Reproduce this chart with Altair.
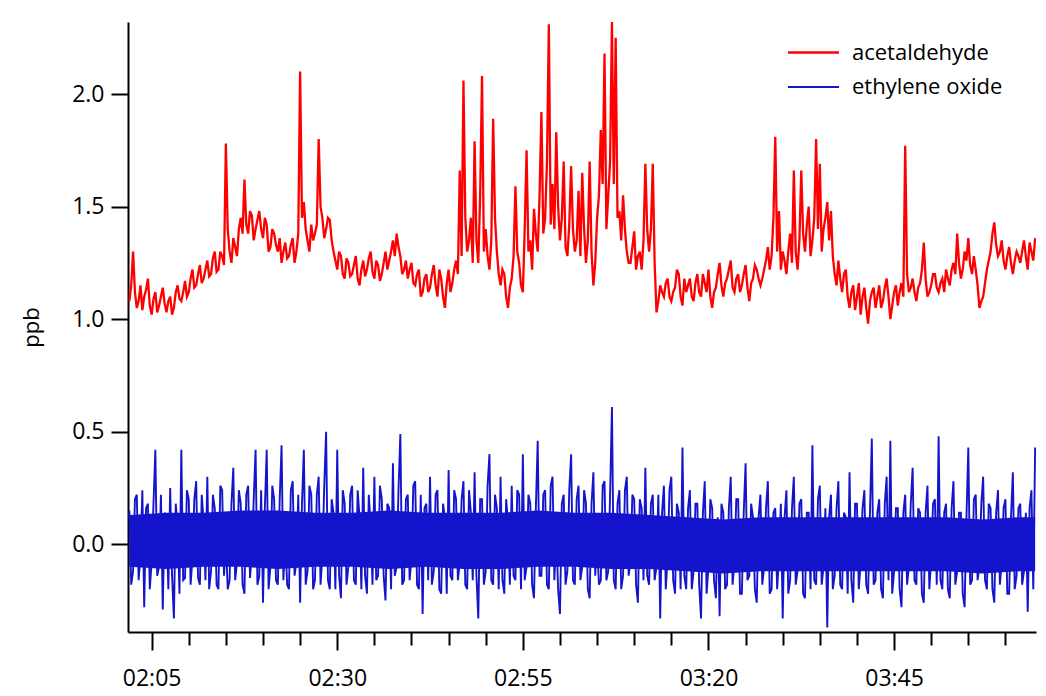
import altair as alt
import pandas as pd

series_names = ["acetaldehyde", "ethylene oxide"]
series_colors = ["#FF0000", "#1414CC"]
start_time = "2024-01-01 02:02:00"
step = "15s"

# acetaldehyde, ppb, readings at hh:mm:00 and hh:mm:30 (rows = 5 minutes)
acetaldehyde = [
    1.08, 1.30, 1.05, 1.15, 1.10, 1.18, 1.02, 1.12, 1.06, 1.14,
    1.03, 1.10, 1.05, 1.15, 1.08, 1.17, 1.12, 1.22, 1.15, 1.24,
    1.18, 1.26, 1.20, 1.30, 1.22, 1.28, 1.78, 1.30, 1.36, 1.28,
    1.45, 1.62, 1.38, 1.46, 1.40, 1.48, 1.36, 1.42, 1.32, 1.38,
    1.30, 1.25, 1.34, 1.28, 1.36, 1.30, 2.10, 1.52, 1.35, 1.42,
    1.38, 1.80, 1.45, 1.40, 1.44, 1.30, 1.22, 1.28, 1.18, 1.25,
    1.20, 1.28, 1.15, 1.26, 1.22, 1.30, 1.18, 1.24, 1.20, 1.30,
    1.26, 1.35, 1.38, 1.28, 1.22, 1.18, 1.25, 1.15, 1.22, 1.12,
    1.20, 1.14, 1.24, 1.10, 1.18, 1.05, 1.22, 1.16, 1.26, 1.66,
    2.06, 1.30, 1.45, 1.79, 1.25, 2.08, 1.40, 1.22, 1.89, 1.30,
    1.15, 1.20, 1.05, 1.18, 1.59, 1.25, 1.12, 1.75, 1.35, 1.49,
    1.30, 1.92, 1.45, 2.31, 1.60, 1.83, 1.35, 1.70, 1.28, 1.68,
    1.30, 1.57, 1.65, 1.25, 1.70, 1.15, 1.45, 1.84, 2.18, 1.55,
    2.32, 2.25, 1.48, 1.55, 1.30, 1.25, 1.39, 1.28, 1.22, 1.69,
    1.30, 1.69, 1.03, 1.15, 1.10, 1.18, 1.08, 1.14, 1.20, 1.06,
    1.12, 1.18, 1.08, 1.20, 1.10, 1.16, 1.22, 1.05, 1.14, 1.25,
    1.10, 1.18, 1.26, 1.12, 1.20, 1.15, 1.24, 1.08, 1.18, 1.22,
    1.15, 1.22, 1.32, 1.28, 1.81, 1.48, 1.30, 1.20, 1.38, 1.66,
    1.22, 1.66, 1.30, 1.50, 1.35, 1.80, 1.69, 1.40, 1.52, 1.48,
    1.20, 1.26, 1.12, 1.22, 1.05, 1.15, 1.10, 1.02, 1.14, 0.98,
    1.12, 1.05, 1.15, 1.08, 1.18, 1.00, 1.12, 1.06, 1.16, 1.77,
    1.12, 1.18, 1.08, 1.16, 1.34, 1.10, 1.15, 1.20, 1.12, 1.18,
    1.22, 1.15, 1.25, 1.38, 1.18, 1.30, 1.36, 1.20, 1.22, 1.05,
    1.10, 1.22, 1.30, 1.43, 1.28, 1.35, 1.22, 1.32, 1.20, 1.30,
    1.25, 1.35, 1.22, 1.30, 1.36,
]

# acetaldehyde, ppb, readings at hh:mm:15 and hh:mm:45
acetaldehyde_q = [
    1.15, 1.12, 1.08, 1.04, 1.13, 1.06, 1.09, 1.03, 1.10, 1.07,
    1.08, 1.02, 1.12, 1.09, 1.12, 1.10, 1.18, 1.14, 1.20, 1.16,
    1.22, 1.19, 1.27, 1.21, 1.30, 1.24, 1.40, 1.25, 1.32, 1.40,
    1.38, 1.42, 1.48, 1.35, 1.44, 1.40, 1.45, 1.30, 1.40, 1.33,
    1.36, 1.30, 1.27, 1.33, 1.25, 1.38, 1.45, 1.40, 1.30, 1.35,
    1.42, 1.50, 1.36, 1.45, 1.35, 1.26, 1.30, 1.20, 1.27, 1.19,
    1.24, 1.18, 1.22, 1.19, 1.27, 1.21, 1.26, 1.17, 1.25, 1.22,
    1.30, 1.28, 1.32, 1.20, 1.26, 1.22, 1.16, 1.20, 1.10, 1.18,
    1.12, 1.20, 1.15, 1.22, 1.10, 1.16, 1.12, 1.22, 1.20, 1.28,
    1.45, 1.35, 1.25, 1.35, 1.55, 1.30, 1.28, 1.35, 1.45, 1.20,
    1.22, 1.10, 1.14, 1.28, 1.30, 1.15, 1.40, 1.30, 1.22, 1.38,
    1.55, 1.38, 1.70, 1.42, 1.40, 1.50, 1.45, 1.32, 1.42, 1.40,
    1.35, 1.28, 1.40, 1.35, 1.30, 1.25, 1.55, 1.60, 1.40, 1.70,
    1.60, 1.45, 1.35, 1.40, 1.25, 1.32, 1.22, 1.30, 1.35, 1.40,
    1.40, 1.25, 1.08, 1.12, 1.16, 1.10, 1.12, 1.22, 1.10, 1.18,
    1.15, 1.10, 1.16, 1.12, 1.20, 1.12, 1.10, 1.12, 1.20, 1.15,
    1.16, 1.22, 1.14, 1.18, 1.12, 1.20, 1.14, 1.16, 1.24, 1.18,
    1.18, 1.26, 1.22, 1.45, 1.30, 1.22, 1.26, 1.30, 1.25, 1.30,
    1.35, 1.38, 1.42, 1.28, 1.45, 1.40, 1.30, 1.45, 1.35, 1.28,
    1.15, 1.18, 1.20, 1.10, 1.12, 1.04, 1.16, 1.10, 1.05, 1.08,
    1.14, 1.10, 1.05, 1.14, 1.10, 1.06, 1.15, 1.12, 1.10, 1.20,
    1.14, 1.12, 1.14, 1.22, 1.18, 1.12, 1.20, 1.14, 1.16, 1.12,
    1.18, 1.22, 1.20, 1.25, 1.22, 1.26, 1.24, 1.28, 1.15, 1.08,
    1.16, 1.26, 1.38, 1.33, 1.30, 1.26, 1.28, 1.25, 1.26, 1.28,
    1.30, 1.28, 1.34, 1.26,
]

# ethylene oxide, ppb, readings at hh:mm:00 and hh:mm:30
ethylene_oxide = [
    0.15, -0.12, 0.22, -0.05, -0.28, 0.18, -0.08, 0.42, -0.10, -0.29,
    0.12, 0.25, -0.33, 0.08, 0.42, -0.15, 0.20, -0.06, 0.28, -0.18,
    0.10, 0.30, -0.12, 0.16, -0.20, 0.24, 0.02, -0.16, 0.34, -0.08,
    0.18, -0.22, 0.26, -0.04, 0.42, -0.14, -0.26, 0.42, -0.10, 0.20,
    -0.18, 0.44, 0.05, -0.20, 0.28, -0.08, -0.26, 0.42, -0.12, 0.22,
    -0.16, 0.30, -0.05, 0.50, -0.20, 0.14, 0.42, -0.24, 0.18, -0.10,
    0.26, -0.18, 0.12, 0.34, -0.22, 0.08, 0.30, -0.14, 0.20, -0.25,
    0.16, 0.36, -0.10, 0.49, -0.16, 0.22, -0.06, 0.28, -0.20, -0.31,
    0.18, 0.30, -0.12, 0.24, -0.22, 0.12, 0.33, -0.16, 0.20, -0.08,
    0.28, -0.20, 0.14, 0.32, -0.33, 0.20, -0.12, 0.40, -0.18, 0.16,
    0.30, -0.22, 0.10, 0.26, -0.16, 0.22, 0.40, -0.10, 0.18, -0.24,
    0.46, -0.14, 0.24, -0.20, 0.30, 0.06, -0.31, 0.22, -0.12, 0.40,
    -0.18, 0.26, -0.10, 0.18, -0.24, 0.32, 0.02, -0.16, 0.28, -0.12,
    0.61, -0.20, 0.24, -0.14, 0.30, -0.08, 0.20, -0.26, 0.16, 0.34,
    -0.18, 0.22, -0.10, -0.33, 0.26, -0.06, 0.30, -0.22, 0.14, 0.43,
    -0.20, 0.24, -0.12, 0.18, -0.33, 0.28, -0.10, 0.16, -0.24, -0.32,
    0.14, -0.18, 0.30, -0.08, 0.20, -0.22, 0.36, -0.14, 0.12, -0.26,
    0.22, -0.10, 0.28, -0.20, 0.16, -0.06, -0.33, 0.24, -0.16, 0.30,
    -0.12, 0.20, -0.24, 0.14, 0.44, -0.18, 0.26, -0.10, -0.37, 0.22,
    -0.14, 0.28, -0.20, 0.12, 0.32, -0.26, 0.18, -0.08, 0.24, -0.22,
    0.47, -0.16, 0.20, -0.24, 0.30, 0.46, -0.12, 0.16, -0.28, 0.22,
    -0.10, 0.34, -0.18, 0.14, -0.26, 0.26, -0.06, 0.20, 0.48, -0.20,
    0.18, -0.24, 0.28, -0.12, 0.14, -0.28, 0.43, -0.16, 0.22, -0.10,
    0.30, -0.20, 0.16, -0.26, 0.24, -0.08, 0.20, -0.22, 0.32, -0.14,
    0.18, -0.12, -0.30, 0.24, 0.43,
]

# ethylene oxide, ppb, readings at hh:mm:15 and hh:mm:45
ethylene_oxide_q = [
    -0.18, 0.20, -0.16, 0.24, 0.16, -0.20, 0.18, -0.14, 0.22, 0.14,
    -0.20, -0.14, 0.18, -0.22, -0.16, 0.24, -0.18, 0.20, -0.15, 0.22,
    -0.16, -0.20, 0.22, -0.18, 0.26, -0.14, -0.20, 0.18, -0.16, 0.24,
    -0.18, 0.22, -0.15, 0.20, -0.18, 0.24, 0.16, -0.20, 0.26, -0.16,
    0.20, -0.16, -0.18, 0.24, -0.14, 0.22, 0.18, -0.18, 0.26, -0.20,
    0.22, -0.18, 0.26, -0.16, 0.20, -0.20, -0.14, 0.24, -0.18, 0.22,
    -0.16, 0.24, -0.20, -0.14, 0.22, -0.18, -0.16, 0.26, -0.14, 0.18,
    -0.20, -0.14, 0.24, -0.18, 0.20, -0.16, 0.26, -0.18, 0.22, 0.16,
    -0.16, -0.18, 0.22, -0.20, 0.18, -0.22, -0.14, 0.24, -0.16, 0.20,
    -0.18, 0.24, -0.16, -0.14, 0.20, -0.18, 0.26, -0.16, 0.22, -0.20,
    -0.16, 0.20, -0.18, -0.14, 0.24, -0.20, -0.16, 0.22, -0.18, 0.16,
    -0.14, 0.22, -0.18, 0.26, -0.16, -0.20, 0.18, -0.18, 0.24, -0.16,
    0.20, -0.16, 0.24, -0.20, 0.18, -0.14, -0.18, 0.26, -0.16, 0.22,
    -0.16, 0.18, -0.20, 0.24, -0.14, 0.22, -0.18, 0.20, -0.16, -0.14,
    0.18, -0.16, 0.22, 0.14, -0.20, 0.24, -0.16, 0.18, -0.20, -0.14,
    0.16, -0.20, 0.18, -0.18, 0.14, -0.22, 0.20, -0.16, 0.12, 0.18,
    -0.20, 0.16, -0.18, 0.20, -0.22, 0.14, -0.16, 0.18, -0.20, 0.12,
    -0.18, 0.16, -0.22, 0.14, -0.20, 0.18, 0.12, -0.22, 0.16, -0.18,
    0.18, -0.22, 0.14, -0.20, -0.16, 0.20, -0.18, 0.16, 0.12, -0.20,
    0.16, -0.18, 0.14, -0.22, -0.16, 0.18, -0.20, 0.16, -0.18, 0.14,
    -0.18, 0.14, -0.20, 0.18, -0.16, -0.22, 0.16, -0.20, 0.14, -0.18,
    0.18, -0.16, 0.16, -0.22, 0.14, -0.20, 0.18, -0.18, -0.16, 0.14,
    -0.20, 0.16, -0.18, 0.14, -0.22, 0.12, -0.18, 0.20, -0.16, 0.18,
    -0.16, 0.18, -0.20, 0.14, -0.18, 0.16, -0.22, 0.12, -0.20, 0.16,
    -0.18, 0.14, 0.16, -0.20,
]

# solid core of the ethylene oxide trace (where the 1-s readings overlap), every 5 min from 02:02, then 04:04
band_times = [(2, 2), (2, 7), (2, 12), (2, 17), (2, 22), (2, 27), (2, 32), (2, 37), (2, 42),
              (2, 47), (2, 52), (2, 57), (3, 2), (3, 7), (3, 12), (3, 17), (3, 22), (3, 27),
              (3, 32), (3, 37), (3, 42), (3, 47), (3, 52), (3, 57), (4, 2), (4, 4)]
ethylene_oxide_core_low = [-0.10, -0.11, -0.10, -0.10, -0.11, -0.10, -0.10, -0.11, -0.10, -0.11, -0.11,
                           -0.10, -0.10, -0.11, -0.11, -0.12, -0.13, -0.12, -0.12, -0.12, -0.12, -0.12,
                           -0.12, -0.13, -0.12, -0.12]
ethylene_oxide_core_high = [0.13, 0.14, 0.14, 0.15, 0.15, 0.14, 0.14, 0.15, 0.14, 0.14, 0.14, 0.15, 0.14,
                            0.14, 0.13, 0.12, 0.11, 0.12, 0.12, 0.12, 0.12, 0.12, 0.12, 0.11, 0.12, 0.12]

series_stroke = [2.3, 1.9]
y_ticks = [0.0, 0.5, 1.0, 1.5, 2.0]
x_tick_minutes = [(2, m) for m in range(5, 60, 5)] + [(3, m) for m in range(0, 60, 5)] + [(4, 0)]

FONT = "Open Sans"


def merge(main, quarter):
    out = []
    for i, v in enumerate(main):
        out.append(v)
        if i < len(quarter):
            out.append(quarter[i])
    return out


series_values = [merge(acetaldehyde, acetaldehyde_q), merge(ethylene_oxide, ethylene_oxide_q)]
times = pd.date_range(start_time, periods=len(series_values[0]), freq=step)
rows = []
for name, vals in zip(series_names, series_values):
    for t, v in zip(times, vals):
        rows.append({"time": t.strftime("%Y-%m-%dT%H:%M:%S"), "ppb": v, "series": name})
df = pd.DataFrame(rows)

band_iso = [f"2024-01-01T{h:02d}:{m:02d}:00" for h, m in band_times]
band_blue = pd.DataFrame({"time": band_iso, "low": ethylene_oxide_core_low, "high": ethylene_oxide_core_high})


def dt(h, m, s=0):
    return alt.DateTime(year=2024, month=1, date=1, hours=h, minutes=m, seconds=s)


x_scale = alt.Scale(domain=[dt(2, 1, 49), dt(4, 4, 7)], nice=False)
y_scale = alt.Scale(domain=[-0.39, 2.32], nice=False, zero=False)
major_test = "(hours(datum.value) * 60 + minutes(datum.value) - 125) % 25 == 0"

x_axis = alt.Axis(
    title=None,
    values=[dt(h, m) for h, m in x_tick_minutes],
    labelExpr=f"{major_test} ? timeFormat(datum.value, '%H:%M') : ''",
    tickSize={"condition": {"test": major_test, "value": 18}, "value": 13},
    tickWidth=2,
    tickColor="black",
    domainColor="black",
    domainWidth=2,
    labelFont=FONT,
    labelFontSize=23,
    labelColor="black",
    labelPadding=17,
    labelFlush=False,
    labelOverlap=False,
    grid=False,
)
y_axis = alt.Axis(
    title="ppb",
    values=y_ticks,
    format=".1f",
    tickSize=17,
    tickWidth=2,
    tickColor="black",
    domainColor="black",
    domainWidth=2,
    labelFont=FONT,
    labelFontSize=23,
    labelColor="black",
    labelPadding=7,
    titleFont=FONT,
    titleFontSize=22,
    titleFontWeight="normal",
    titleColor="black",
    titlePadding=28,
    grid=False,
)

band = alt.Chart(band_blue).mark_area(color=series_colors[1], opacity=1, clip=True).encode(
    x=alt.X("time:T", scale=x_scale, axis=x_axis),
    y=alt.Y("low:Q", scale=y_scale, axis=y_axis, title="ppb"),
    y2="high:Q",
)

lines = alt.Chart(df).mark_line(clip=True).encode(
    x=alt.X("time:T", scale=x_scale, axis=x_axis),
    y=alt.Y("ppb:Q", scale=y_scale, axis=y_axis, title="ppb"),
    strokeWidth=alt.StrokeWidth(
        "series:N", scale=alt.Scale(domain=series_names, range=series_stroke), legend=None
    ),
    color=alt.Color(
        "series:N",
        scale=alt.Scale(domain=series_names, range=series_colors),
        legend=alt.Legend(
            title=None,
            orient="none",
            legendX=674,
            legendY=19,
            symbolType="M-2.55,0H2.55",
            symbolSize=400,
            symbolStrokeWidth=2,
            labelFont=FONT,
            labelFontSize=22,
            labelColor="black",
            labelOffset=27,
            rowPadding=12,
        ),
    ),
)

chart = alt.layer(band, lines).properties(
    width=908,
    height=610,
    autosize="none",
    padding={"left": 120, "top": 14, "right": 2, "bottom": 60},
).configure_view(stroke=None)

chart.save("out.html", embed_options={"renderer": "svg", "actions": False})
